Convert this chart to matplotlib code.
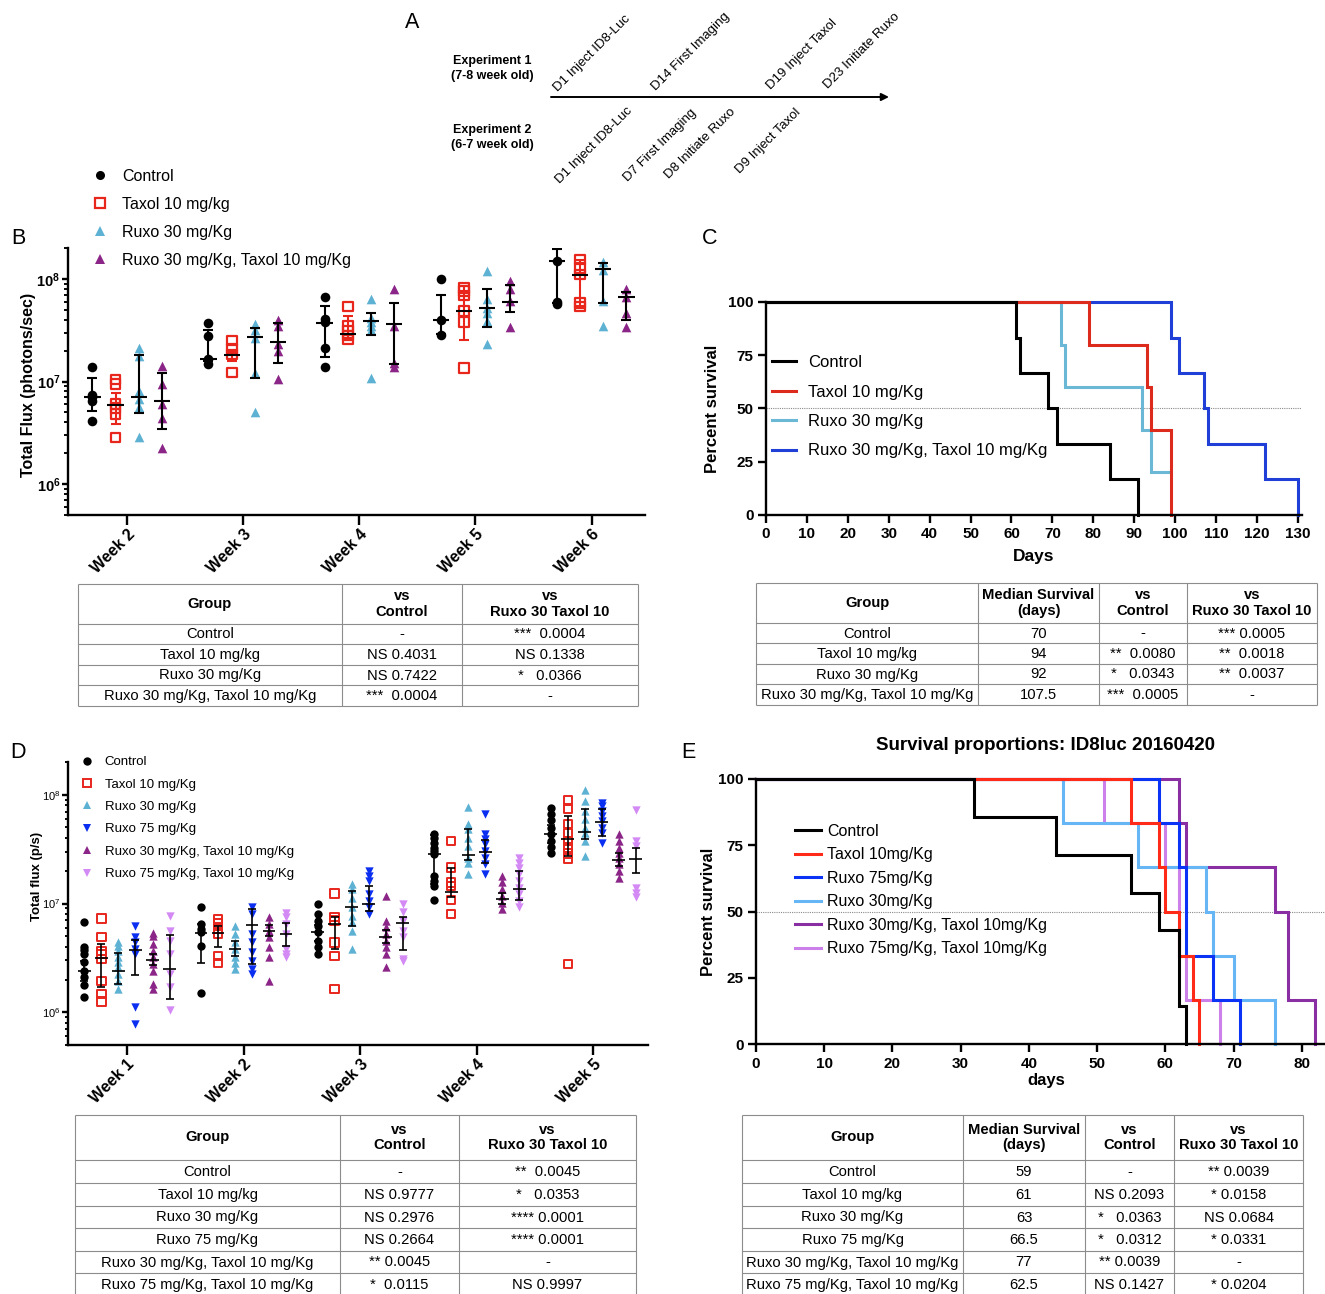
import matplotlib
matplotlib.use("Agg")
import matplotlib.pyplot as plt
from matplotlib.lines import Line2D
from matplotlib.ticker import LogLocator, FuncFormatter, NullFormatter, MultipleLocator
import numpy as np

plt.rcParams["font.family"] = ["Liberation Sans", "DejaVu Sans"]
plt.rcParams["mathtext.fontset"] = "custom"
plt.rcParams["mathtext.rm"] = "Liberation Sans"
plt.rcParams["mathtext.bf"] = "Liberation Sans:bold"

W, H = 1325, 1294

# ── colours ──────────────────────────────────────────────────────────────────
BLACK = "#000000"
RED = "#e8261c"
LBLUE = "#5db1d3"
BLUE = "#0a2ff0"
PURPLE = "#8b2587"
LILAC = "#d48af5"
GRID_T = "#8c8c8c"

# ── Panel B data (total flux per mouse, weeks 2-6) ───────────────────────────
B_WEEKS = ["Week 2", "Week 3", "Week 4", "Week 5", "Week 6"]
B_LABELS = ["Control", "Taxol 10 mg/kg", "Ruxo 30 mg/Kg", "Ruxo 30 mg/Kg, Taxol 10 mg/Kg"]
B_CONTROL = [
    [1.38e7, 7.4e6, 7.0e6, 6.4e6, 4.1e6],
    [3.7e7, 2.75e7, 1.64e7, 1.47e7],
    [6.7e7, 4.08e7, 3.76e7, 2.13e7, 1.38e7],
    [9.9e7, 4.0e7, 2.83e7],
    [1.51e8, 5.9e7, 5.7e7],
]
B_TAXOL = [
    [1.05e7, 9.4e6, 6.0e6, 5.5e6, 4.8e6, 2.85e6],
    [2.5e7, 2.1e7, 1.84e7, 1.22e7],
    [5.4e7, 3.47e7, 3.15e7, 2.81e7, 2.57e7],
    [8.2e7, 7.6e7, 6.9e7, 4.85e7, 3.82e7, 1.36e7],
    [1.54e8, 1.28e8, 1.1e8, 5.85e7, 5.4e7],
]
B_RUXO30 = [
    [2.1e7, 1.77e7, 8.1e6, 6.7e6, 5.7e6, 2.85e6],
    [3.6e7, 3.15e7, 2.67e7, 1.22e7, 5.1e6],
    [6.3e7, 4.18e7, 3.8e7, 3.47e7, 3.2e7, 1.07e7],
    [1.2e8, 6.3e7, 5.2e7, 4.67e7, 3.87e7, 2.3e7],
    [1.46e8, 1.23e8, 6.07e7, 3.47e7],
]
B_COMBO = [
    [1.42e7, 9.5e6, 6.0e6, 4.45e6, 2.27e6],
    [3.96e7, 3.47e7, 2.3e7, 1.98e7, 1.05e7],
    [7.9e7, 3.47e7, 1.52e7, 1.38e7],
    [9.5e7, 7.9e7, 6.07e7, 3.39e7],
    [8.0e7, 6.6e7, 4.67e7, 3.39e7],
]
# (centre, lower whisker, upper whisker)
B_CONTROL_BAR = [(7.0e6, 5.2e6, 1.07e7), (1.64e7, 1.6e7, 3.2e7), (3.73e7, 1.74e7, 5.4e7),
                 (4.0e7, 2.9e7, 6.9e7), (1.48e8, 5.8e7, 1.97e8)]
B_TAXOL_BAR = [(5.9e6, 3.84e6, 7.8e6), (1.81e7, 1.6e7, 2.0e7), (2.9e7, 2.65e7, 4.3e7),
               (4.85e7, 2.54e7, 8.5e7), (1.1e8, 5.4e7, 1.54e8)]
B_RUXO30_BAR = [(7.1e6, 4.9e6, 1.81e7), (2.73e7, 1.09e7, 3.3e7), (3.88e7, 2.81e7, 4.67e7),
                (5.15e7, 3.39e7, 7.9e7), (1.25e8, 5.85e7, 1.42e8)]
B_COMBO_BAR = [(6.5e6, 3.43e6, 1.2e7), (2.42e7, 1.52e7, 3.7e7), (3.6e7, 1.49e7, 5.8e7),
               (6.0e7, 4.74e7, 8.8e7), (6.6e7, 4.0e7, 7.5e7)]

# ── Panel C data (Kaplan-Meier steps) ────────────────────────────────────────
C_CONTROL_T = [0, 61, 62, 69, 71, 84, 91]
C_CONTROL_S = [100, 83.3, 66.7, 50, 33.3, 16.7, 0]
C_TAXOL_T = [0, 79, 93, 94, 99]
C_TAXOL_S = [100, 80, 60, 40, 0]
C_RUXO30_T = [0, 72, 73, 92, 94, 98.8]
C_RUXO30_S = [100, 80, 60, 40, 20, 20]
C_COMBO_T = [0, 99, 101, 107, 108, 122, 130]
C_COMBO_S = [100, 83.3, 66.7, 50, 33.3, 16.7, 0]

# ── Panel D data (total flux, weeks 1-5) ─────────────────────────────────────
D_WEEKS = ["Week 1", "Week 2", "Week 3", "Week 4", "Week 5"]
D_LABELS = ["Control", "Taxol 10 mg/Kg", "Ruxo 30 mg/Kg", "Ruxo 75 mg/Kg",
            "Ruxo 30 mg/Kg, Taxol 10 mg/Kg", "Ruxo 75 mg/Kg, Taxol 10 mg/Kg"]
D_CONTROL = [
    [6.7e6, 3.95e6, 3.73e6, 3.43e6, 2.88e6, 2.41e6, 2.12e6, 1.79e6, 1.37e6],
    [9.3e6, 6.46e6, 5.82e6, 5.42e6, 4.09e6, 1.49e6],
    [9.9e6, 7.98e6, 6.93e6, 6.24e6, 5.42e6, 4.54e6, 3.95e6, 3.43e6],
    [4.39e7, 4.03e7, 3.63e7, 3.27e7, 3.04e7, 2.84e7, 1.79e7, 1.61e7, 1.45e7, 1.07e7],
    [7.6e7, 6.7e7, 5.82e7, 4.98e7, 4.39e7, 3.76e7, 3.31e7, 2.94e7],
]
D_TAXOL = [
    [7.3e6, 4.94e6, 3.68e6, 3.43e6, 3.08e6, 1.95e6, 1.47e6, 1.26e6],
    [7.2e6, 6.56e6, 5.82e6, 5.24e6, 3.31e6, 2.82e6],
    [1.24e7, 7.55e6, 7.0e6, 4.39e6, 3.31e6, 1.64e6],
    [3.76e7, 2.14e7, 1.56e7, 1.45e7, 1.07e7, 7.98e6],
    [8.87e7, 7.45e7, 5.35e7, 4.48e7, 3.76e7, 3.27e7, 2.88e7, 2.59e7, 2.77e6],
]
D_RUXO30 = [
    [4.39e6, 4.09e6, 3.68e6, 3.2e6, 2.88e6, 2.59e6, 2.25e6, 1.95e6, 1.64e6],
    [6.24e6, 5.24e6, 4.39e6, 3.81e6, 3.2e6, 2.82e6, 2.5e6],
    [1.5e7, 1.35e7, 1.13e7, 9.2e6, 7.7e6, 6.7e6, 5.6e6, 3.81e6],
    [7.7e7, 5.35e7, 4.81e7, 4.03e7, 3.38e7, 2.64e7, 2.38e7, 1.86e7],
    [1.1e8, 8.75e7, 7.08e7, 5.94e7, 4.98e7, 4.48e7, 3.76e7, 2.74e7],
]
D_RUXO75 = [
    [6.15e6, 4.87e6, 4.39e6, 3.81e6, 3.43e6, 1.11e6, 7.8e5],
    [9.3e6, 8.0e6, 5.24e6, 4.39e6, 3.55e6, 2.98e6, 2.5e6, 2.25e6],
    [2.0e7, 1.79e7, 1.61e7, 1.22e7, 1.06e7, 9.2e6, 7.98e6],
    [6.6e7, 4.33e7, 3.89e7, 3.5e7, 3.04e7, 2.64e7, 2.3e7, 1.86e7],
    [8.45e7, 7.87e7, 7.08e7, 6.37e7, 5.73e7, 4.98e7, 4.48e7, 3.63e7],
]
D_COMBO30 = [
    [5.4e6, 5.05e6, 4.24e6, 3.68e6, 3.2e6, 2.77e6, 2.41e6, 1.82e6, 1.64e6],
    [7.45e6, 6.46e6, 5.6e6, 4.87e6, 3.95e6, 3.2e6, 1.95e6],
    [1.17e7, 6.93e6, 6.03e6, 5.24e6, 4.54e6, 3.95e6, 3.43e6, 2.59e6],
    [1.79e7, 1.56e7, 1.35e7, 1.17e7, 1.02e7, 8.87e6],
    [4.39e7, 3.76e7, 3.27e7, 2.94e7, 2.64e7, 2.3e7, 2.0e7, 1.73e7],
]
D_COMBO75 = [
    [7.7e6, 5.6e6, 4.54e6, 3.43e6, 2.25e6, 1.69e6, 1.04e6],
    [8.1e6, 7.45e6, 6.46e6, 5.24e6, 3.81e6, 3.43e6, 3.2e6],
    [1.0e7, 8.27e6, 6.93e6, 5.6e6, 4.87e6, 3.08e6, 2.98e6],
    [2.64e7, 2.38e7, 2.14e7, 1.86e7, 1.61e7, 1.4e7, 1.22e7, 1.06e7, 9.2e6],
    [7.18e7, 3.76e7, 3.38e7, 1.4e7, 1.26e7, 1.15e7],
]
D_CONTROL_BAR = [(2.41e6, 1.95e6, 2.98e6), (5.4e6, 2.82e6, 6.46e6), (5.42e6, 4.5e6, 6.3e6),
                 (2.84e7, 1.5e7, 4.3e7), (4.39e7, 3.6e7, 5.3e7)]
D_TAXOL_BAR = [(3.15e6, 1.69e6, 4.24e6), (5.3e6, 3.95e6, 6.15e6), (6.46e6, 3.81e6, 7.5e6),
               (1.28e7, 1.15e7, 2.11e7), (3.89e7, 2.74e7, 6.37e7)]
D_RUXO30_BAR = [(2.38e6, 1.82e6, 3.5e6), (3.81e6, 3.31e6, 4.54e6), (9.3e6, 6.15e6, 1.29e7),
                (2.77e7, 2.52e7, 4.88e7), (4.58e7, 3.89e7, 7.45e7)]
D_RUXO75_BAR = [(3.73e6, 2.22e6, 4.6e6), (6.3e6, 2.77e6, 8.87e6), (1.0e7, 8.45e6, 1.44e7),
                (3.0e7, 2.38e7, 3.81e7), (5.65e7, 4.18e7, 7.34e7)]
D_COMBO30_BAR = [(3.02e6, 2.7e6, 3.4e6), (5.6e6, 5.0e6, 6.3e6), (4.94e6, 4.3e6, 5.7e6),
                 (1.11e7, 1.0e7, 1.25e7), (2.52e7, 2.2e7, 2.9e7)]
D_COMBO75_BAR = [(2.5e6, 1.32e6, 5.08e6), (5.24e6, 4.06e6, 6.56e6), (6.6e6, 3.76e6, 7.45e6),
                 (1.35e7, 1.07e7, 2.0e7), (2.59e7, 1.92e7, 3.27e7)]

# ── Panel E data (Kaplan-Meier steps) ────────────────────────────────────────
E_CONTROL_T = [0, 32, 44, 55, 59, 62, 63]
E_CONTROL_S = [100, 85.7, 71.4, 57.1, 42.9, 14.3, 0]
E_TAXOL_T = [0, 55, 59, 60, 62, 64, 65]
E_TAXOL_S = [100, 83.3, 66.7, 50, 33.3, 16.7, 0]
E_RUXO75_T = [0, 59, 62, 63, 67, 71]
E_RUXO75_S = [100, 83.3, 66.7, 33.3, 16.7, 0]
E_RUXO30_T = [0, 45, 56, 66, 67, 70, 76]
E_RUXO30_S = [100, 83.3, 66.7, 50, 33.3, 16.7, 0]
E_COMBO30_T = [0, 62, 63, 76, 78, 82]
E_COMBO30_S = [100, 83.3, 66.7, 50, 16.7, 0]
E_COMBO75_T = [0, 51, 60, 62, 63, 68]
E_COMBO75_S = [100, 83.3, 66.7, 33.3, 16.7, 0]

# ── tables ───────────────────────────────────────────────────────────────────
TB_HEAD = ["Group", "vs\nControl", "vs\nRuxo 30 Taxol 10"]
TB_ROWS = [
    ["Control", "-", "***  0.0004"],
    ["Taxol 10 mg/kg", "NS 0.4031", "NS 0.1338"],
    ["Ruxo 30 mg/Kg", "NS 0.7422", "*   0.0366"],
    ["Ruxo 30 mg/Kg, Taxol 10 mg/Kg", "***  0.0004", "-"],
]
TC_HEAD = ["Group", "Median Survival\n(days)", "vs\nControl", "vs\nRuxo 30 Taxol 10"]
TC_ROWS = [
    ["Control", "70", "-", "*** 0.0005"],
    ["Taxol 10 mg/kg", "94", "**  0.0080", "**  0.0018"],
    ["Ruxo 30 mg/Kg", "92", "*   0.0343", "**  0.0037"],
    ["Ruxo 30 mg/Kg, Taxol 10 mg/Kg", "107.5", "***  0.0005", "-"],
]
TD_HEAD = ["Group", "vs\nControl", "vs\nRuxo 30 Taxol 10"]
TD_ROWS = [
    ["Control", "-", "**  0.0045"],
    ["Taxol 10 mg/kg", "NS 0.9777", "*   0.0353"],
    ["Ruxo 30 mg/Kg", "NS 0.2976", "**** 0.0001"],
    ["Ruxo 75 mg/Kg", "NS 0.2664", "**** 0.0001"],
    ["Ruxo 30 mg/Kg, Taxol 10 mg/Kg", "** 0.0045", "-"],
    ["Ruxo 75 mg/Kg, Taxol 10 mg/Kg", "*  0.0115", "NS 0.9997"],
]
TE_HEAD = ["Group", "Median Survival\n(days)", "vs\nControl", "vs\nRuxo 30 Taxol 10"]
TE_ROWS = [
    ["Control", "59", "-", "** 0.0039"],
    ["Taxol 10 mg/kg", "61", "NS 0.2093", "* 0.0158"],
    ["Ruxo 30 mg/Kg", "63", "*   0.0363", "NS 0.0684"],
    ["Ruxo 75 mg/Kg", "66.5", "*   0.0312", "* 0.0331"],
    ["Ruxo 30 mg/Kg, Taxol 10 mg/Kg", "77", "** 0.0039", "-"],
    ["Ruxo 75 mg/Kg, Taxol 10 mg/Kg", "62.5", "NS 0.1427", "* 0.0204"],
]


def px_axes(fig, l, t, r, b):
    return fig.add_axes([l / W, 1 - b / H, (r - l) / W, (b - t) / H])


def style_ax(ax, lw=1.7):
    for s in ["top", "right"]:
        ax.spines[s].set_visible(False)
    for s in ["left", "bottom"]:
        ax.spines[s].set_linewidth(lw)
    ax.tick_params(which="major", direction="out", width=lw, length=5.5)
    ax.tick_params(which="minor", direction="out", width=lw * 0.8, length=3)


def decade_fmt(bold):
    if bold:
        return FuncFormatter(lambda v, p: rf"$\mathbf{{10^{{{int(round(np.log10(v)))}}}}}$")
    return FuncFormatter(lambda v, p: rf"$10^{{{int(round(np.log10(v)))}}}$")


def scatter_panel(ax, groups, bars, styles, offsets, ms, hw, capsize, elw):
    for gi, (weeks, bar, st) in enumerate(zip(groups, bars, styles)):
        for wi, pts in enumerate(weeks):
            x = wi + offsets[gi]
            ax.scatter(np.full(len(pts), x), pts, marker=st["m"], s=ms,
                       facecolors=st["fc"], edgecolors=st["ec"],
                       linewidths=st["lw"], zorder=3)
            mid, lo, hi = bar[wi]
            ax.errorbar([x], [mid], yerr=[[mid - lo], [hi - mid]], fmt="none",
                        ecolor=st["bar"], elinewidth=elw, capsize=capsize,
                        capthick=elw, zorder=4)
            ax.hlines(mid, x - hw, x + hw, color=BLACK, lw=elw, zorder=5)


def km_panel(ax, curves):
    handles = {}
    for t, s, color, name in curves:
        ln, = ax.step(t, s, where="post", color=color, lw=2.2, solid_joinstyle="miter",
                      clip_on=False)
        handles[name] = ln
    return handles


def draw_table(ov, cols, rows_y, head, rows, fs=10.6):
    x0, x1 = cols[0], cols[-1]
    for y in rows_y:
        ov.plot([x0, x1], [y, y], color=GRID_T, lw=0.8, solid_capstyle="butt")
    for x in cols:
        ov.plot([x, x], [rows_y[0], rows_y[-1]], color=GRID_T, lw=0.8, solid_capstyle="butt")
    for ci, txt in enumerate(head):
        cx = (cols[ci] + cols[ci + 1]) / 2
        cy = (rows_y[0] + rows_y[1]) / 2
        ov.text(cx, cy, txt, ha="center", va="center", fontsize=fs,
                fontweight="bold", linespacing=1.15)
    for ri, row in enumerate(rows):
        cy = (rows_y[ri + 1] + rows_y[ri + 2]) / 2
        for ci, txt in enumerate(row):
            cx = (cols[ci] + cols[ci + 1]) / 2
            ov.text(cx, cy + 0.5, txt, ha="center", va="center", fontsize=fs)


fig = plt.figure(figsize=(W / 100, H / 100), dpi=100, facecolor="white")

# ── Panel B ──────────────────────────────────────────────────────────────────
axB = px_axes(fig, 68, 248, 645, 515)
style_ax(axB)
b_styles = [
    dict(m="o", fc=BLACK, ec=BLACK, lw=0, bar=BLACK),
    dict(m="s", fc="none", ec=RED, lw=1.6, bar=RED),
    dict(m="^", fc=LBLUE, ec=LBLUE, lw=0, bar=BLACK),
    dict(m="^", fc=PURPLE, ec=PURPLE, lw=0, bar=BLACK),
]
b_off = [(i - 1.5) * 0.2 for i in range(4)]
scatter_panel(axB, [B_CONTROL, B_TAXOL, B_RUXO30, B_COMBO],
              [B_CONTROL_BAR, B_TAXOL_BAR, B_RUXO30_BAR, B_COMBO_BAR],
              b_styles, b_off, ms=48, hw=0.07, capsize=3.4, elw=1.5)
axB.set_yscale("log")
axB.set_ylim(5e5, 2e8)
axB.set_xlim(-0.51, 4.46)
axB.yaxis.set_major_locator(LogLocator(base=10))
axB.yaxis.set_minor_locator(LogLocator(base=10, subs=np.arange(2, 10)))
axB.yaxis.set_major_formatter(decade_fmt(True))
axB.yaxis.set_minor_formatter(NullFormatter())
axB.set_xticks(range(len(B_WEEKS)))
axB.set_xticklabels(B_WEEKS, rotation=45, ha="right", rotation_mode="anchor",
                    fontsize=11.5, fontweight="bold")
axB.tick_params(axis="x", length=7, pad=1.5)
axB.tick_params(axis="y", which="major", labelsize=10.5, length=4.5, pad=1)
axB.set_ylabel("Total Flux (photons/sec)", fontsize=11.5, fontweight="bold")
axB.yaxis.set_label_coords(-0.055, 0.487)
b_handles = [Line2D([], [], ls="none", marker=st["m"], markersize=6.5,
                    markerfacecolor=st["fc"], markeredgecolor=st["ec"],
                    markeredgewidth=st["lw"] or 0)
             for st in b_styles]
fig.legend(b_handles, B_LABELS, loc="upper left", bbox_to_anchor=(92 / W, 1 - 169 / H),
           frameon=False, fontsize=11.5, handlelength=1.0, handletextpad=0.9,
           labelspacing=0.81, borderpad=0, borderaxespad=0)

# ── Panel C ──────────────────────────────────────────────────────────────────
axC = px_axes(fig, 766, 302, 1302, 515)
style_ax(axC)
axC.axhline(50, color="#8a8a8a", lw=0.8, ls=(0, (1, 1)), zorder=0)
hc = km_panel(axC, [
    (C_COMBO_T, C_COMBO_S, "#1f3fd6", "combo"),
    (C_RUXO30_T, C_RUXO30_S, "#6ab7d6", "ruxo30"),
    (C_TAXOL_T, C_TAXOL_S, "#dc2a1c", "taxol"),
    (C_CONTROL_T, C_CONTROL_S, BLACK, "control"),
])
axC.set_xlim(0, 131)
axC.set_ylim(0, 100)
axC.xaxis.set_major_locator(MultipleLocator(10))
axC.set_yticks([0, 25, 50, 75, 100])
for lab in axC.get_xticklabels() + axC.get_yticklabels():
    lab.set_fontweight("bold")
axC.tick_params(labelsize=11)
axC.set_xlabel("Days", fontsize=12.5, fontweight="bold")
axC.xaxis.set_label_coords(0.5, -0.16)
axC.set_ylabel("Percent survival", fontsize=12, fontweight="bold")
axC.yaxis.set_label_coords(-0.085, 0.5)
axC.legend([hc["control"], hc["taxol"], hc["ruxo30"], hc["combo"]],
           ["Control", "Taxol 10 mg/Kg", "Ruxo 30 mg/Kg", "Ruxo 30 mg/Kg, Taxol 10 mg/Kg"],
           loc="upper left", bbox_to_anchor=(772 / W, 1 - 355 / H),
           bbox_transform=fig.transFigure, frameon=False, fontsize=12,
           handlelength=1.45, handletextpad=0.72, labelspacing=0.87,
           borderpad=0, borderaxespad=0)

# ── Panel D ──────────────────────────────────────────────────────────────────
axD = px_axes(fig, 68, 762, 648, 1045)
style_ax(axD)
d_styles = [
    dict(m="o", fc=BLACK, ec=BLACK, lw=0, bar=BLACK),
    dict(m="s", fc="none", ec=RED, lw=1.4, bar=BLACK),
    dict(m="^", fc=LBLUE, ec=LBLUE, lw=0, bar=BLACK),
    dict(m="v", fc=BLUE, ec=BLUE, lw=0, bar=BLACK),
    dict(m="^", fc=PURPLE, ec=PURPLE, lw=0, bar=BLACK),
    dict(m="v", fc=LILAC, ec=LILAC, lw=0, bar=BLACK),
]
d_off = [(i - 2.5) * 0.146 for i in range(6)]
scatter_panel(axD, [D_CONTROL, D_TAXOL, D_RUXO30, D_RUXO75, D_COMBO30, D_COMBO75],
              [D_CONTROL_BAR, D_TAXOL_BAR, D_RUXO30_BAR, D_RUXO75_BAR,
               D_COMBO30_BAR, D_COMBO75_BAR],
              d_styles, d_off, ms=36, hw=0.055, capsize=2.7, elw=1.2)
axD.set_yscale("log")
axD.set_ylim(5e5, 2e8)
axD.set_xlim(-0.506, 4.47)
axD.yaxis.set_major_locator(LogLocator(base=10))
axD.yaxis.set_minor_locator(LogLocator(base=10, subs=np.arange(2, 10)))
axD.yaxis.set_major_formatter(decade_fmt(False))
axD.yaxis.set_minor_formatter(NullFormatter())
axD.set_xticks(range(len(D_WEEKS)))
axD.set_xticklabels(D_WEEKS, rotation=45, ha="right", rotation_mode="anchor",
                    fontsize=11.5, fontweight="bold")
axD.tick_params(axis="x", length=7, pad=1.5)
axD.tick_params(axis="y", which="major", labelsize=8, length=4, pad=1.5)
axD.tick_params(axis="y", which="minor", length=2.5)
axD.set_ylabel("Total flux (p/s)", fontsize=9.5, fontweight="bold")
axD.yaxis.set_label_coords(-0.043, 0.594)
d_handles = [Line2D([], [], ls="none", marker=st["m"], markersize=6,
                    markerfacecolor=st["fc"], markeredgecolor=st["ec"],
                    markeredgewidth=st["lw"] or 0)
             for st in d_styles]
fig.legend(d_handles, D_LABELS, loc="upper left", bbox_to_anchor=(80 / W, 1 - 756 / H),
           frameon=False, fontsize=9.5, handlelength=1.0, handletextpad=0.86,
           labelspacing=0.77, borderpad=0, borderaxespad=0)

# ── Panel E ──────────────────────────────────────────────────────────────────
axE = px_axes(fig, 756, 779, 1325, 1044)
style_ax(axE)
axE.axhline(50, color="#8a8a8a", lw=0.8, ls=(0, (1, 1)), zorder=0)
he = km_panel(axE, [
    (E_COMBO30_T, E_COMBO30_S, "#8a2fa3", "combo30"),
    (E_COMBO75_T, E_COMBO75_S, "#cc80ea", "combo75"),
    (E_RUXO30_T, E_RUXO30_S, "#66b6f5", "ruxo30"),
    (E_RUXO75_T, E_RUXO75_S, "#0a33f5", "ruxo75"),
    (E_TAXOL_T, E_TAXOL_S, "#ff2a17", "taxol"),
    (E_CONTROL_T, E_CONTROL_S, BLACK, "control"),
])
axE.set_xlim(0, 83.4)
axE.set_ylim(0, 100)
axE.set_xticks(range(0, 81, 10))
axE.set_yticks([0, 25, 50, 75, 100])
for lab in axE.get_xticklabels() + axE.get_yticklabels():
    lab.set_fontweight("bold")
axE.tick_params(labelsize=11)
axE.set_xlabel("days", fontsize=12, fontweight="bold")
axE.xaxis.set_label_coords(0.51, -0.11)
axE.set_ylabel("Percent survival", fontsize=12, fontweight="bold")
axE.yaxis.set_label_coords(-0.07, 0.5)
axE.legend([he["control"], he["taxol"], he["ruxo75"], he["ruxo30"], he["combo30"], he["combo75"]],
           ["Control", "Taxol 10mg/Kg", "Ruxo 75mg/Kg", "Ruxo 30mg/Kg",
            "Ruxo 30mg/Kg, Taxol 10mg/Kg", "Ruxo 75mg/Kg, Taxol 10mg/Kg"],
           loc="upper left", bbox_to_anchor=(795 / W, 1 - 824 / H),
           bbox_transform=fig.transFigure, frameon=False, fontsize=11.5,
           handlelength=1.6, handletextpad=0.4, labelspacing=0.53,
           borderpad=0, borderaxespad=0)

# ── overlay: panel A timeline, panel letters, tables ─────────────────────────
ov = fig.add_axes([0, 0, 1, 1])
ov.set_xlim(0, W)
ov.set_ylim(H, 0)
ov.axis("off")

for letter, (x, y) in {"A": (412, 23), "B": (18, 238), "C": (710, 238),
                       "D": (18, 753), "E": (688, 753)}.items():
    ov.text(x, y, letter, fontsize=15.5, ha="center", va="center")

ov.annotate("", xy=(889, 97), xytext=(551, 97),
            arrowprops=dict(arrowstyle="-|>", color=BLACK, lw=1.4, mutation_scale=11,
                            shrinkA=0, shrinkB=0))
for (x, y), s in [((492, 61), "Experiment 1"), ((492, 76), "(7-8 week old)"),
                  ((492, 130), "Experiment 2"), ((492, 145), "(6-7 week old)")]:
    ov.text(x, y, s, fontsize=9, fontweight="bold", ha="center", va="center")
for (x, y), s in [((558, 92), "D1 Inject ID8-Luc"), ((656, 91), "D14 First Imaging"),
                  ((771, 90), "D19 Inject Taxol"), ((828, 89), "D23 Initiate Ruxo"),
                  ((560, 184), "D1 Inject ID8-Luc"), ((628, 182), "D7 First Imaging"),
                  ((669, 179), "D8 Initiate Ruxo"), ((740, 174), "D9 Inject Taxol")]:
    ov.text(x, y, s, fontsize=9.5, rotation=45, ha="left", va="baseline",
            rotation_mode="anchor")

ov.text(1046, 746, "Survival proportions: ID8luc 20160420", fontsize=13.5,
        fontweight="bold", ha="center", va="center")

draw_table(ov, [78, 342, 462, 638], [584, 624, 644, 665, 685, 706], TB_HEAD, TB_ROWS)
draw_table(ov, [756, 978, 1099, 1187, 1317], [583, 623, 643, 664, 684, 705], TC_HEAD, TC_ROWS)
draw_table(ov, [75, 340, 459, 636], [1115, 1160, 1183, 1206, 1228, 1251, 1273, 1296],
           TD_HEAD, TD_ROWS)
draw_table(ov, [742, 963, 1085, 1174, 1303], [1115, 1160, 1183, 1206, 1228, 1251, 1273, 1296],
           TE_HEAD, TE_ROWS)

fig.savefig("out.png", dpi=100, facecolor="white")
